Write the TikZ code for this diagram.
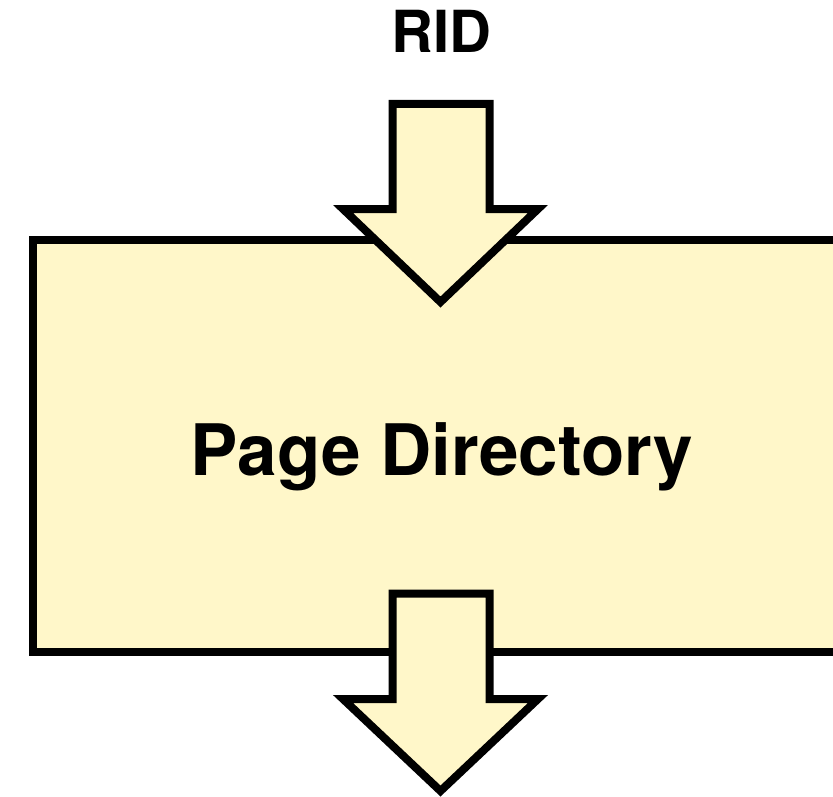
\documentclass[tikz,border=0pt]{standalone}
\usepackage{fontspec}
\setmainfont{TeX Gyre Heros}
\definecolor{boxfill}{RGB}{255,247,201}
\begin{document}
\begin{tikzpicture}[x=1pt,y=-1pt,
  outlined/.style={draw=black, line width=8pt, fill=boxfill, line join=miter, miter limit=10},
  label/.style={font=\bfseries\fontsize{#1}{#1}\selectfont, anchor=base, inner sep=0pt}]
\useasboundingbox (0,0) rectangle (833,797);
\clip (0,0) rectangle (833,797);
% directory box, running past the right edge
\draw[outlined] (33,240) rectangle (880,652);
\node[label=71] (dir) at (442,475) {Page Directory};
% incoming arrow
\draw[outlined] (392.5,104) -- (489.5,104) -- (489.5,209) -- (538,209) -- (440.5,302)
  -- (343,209) -- (392.5,209) -- cycle;
% outgoing arrow
\draw[outlined] (392.5,593.5) -- (489.5,593.5) -- (489.5,699) -- (538,699) -- (440.5,791)
  -- (343,699) -- (392.5,699) -- cycle;
\node[label=58] (rid) at (441.5,53) {RID};
\end{tikzpicture}
\end{document}
